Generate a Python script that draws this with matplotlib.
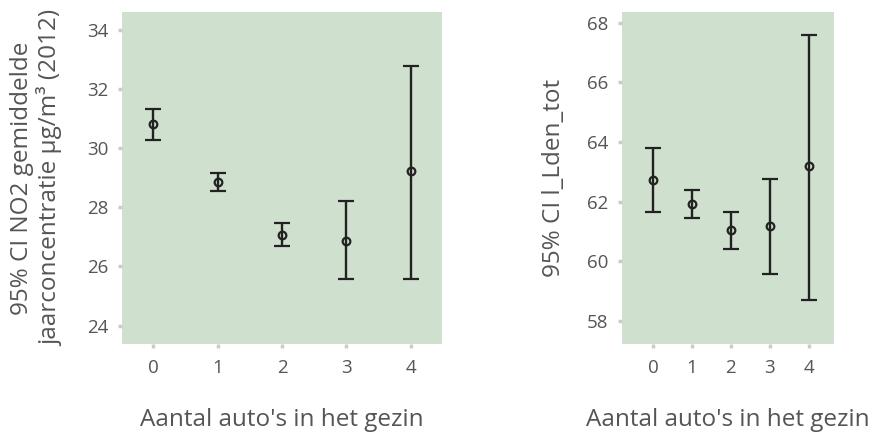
import matplotlib
matplotlib.use("Agg")
import matplotlib.pyplot as plt

plt.rcParams['font.family'] = ['Open Sans', 'DejaVu Sans']

cars = [0, 1, 2, 3, 4]
cars_labels = ["0", "1", "2", "3", "4"]

no2_mean = [30.80, 28.86, 27.08, 26.85, 29.23]
no2_low = [30.28, 28.56, 26.70, 25.59, 25.59]
no2_high = [31.33, 29.16, 27.47, 28.21, 32.78]

lden_mean = [62.72, 61.93, 61.05, 61.18, 63.20]
lden_low = [61.65, 61.45, 60.40, 59.57, 58.68]
lden_high = [63.80, 62.38, 61.65, 62.76, 67.60]

no2_ticks = [24, 26, 28, 30, 32, 34]
lden_ticks = [58, 60, 62, 64, 66, 68]

xlabel = "Aantal auto's in het gezin"
ylabel_no2 = "95% CI NO2 gemiddelde\njaarconcentratie µg/m³ (2012)"
ylabel_lden = "95% CI l_Lden_tot"

BG = "#cfe0ce"
DARK = "#222222"
GREY = "#555555"
TICKC = "#cccccc"

fig = plt.figure(figsize=(8.73, 4.34), dpi=100)
ax1 = fig.add_axes([122/873, 90/434, 320/873, 332/434])
ax2 = fig.add_axes([622/873, 90/434, 212/873, 332/434])


def draw(ax, mean, low, high, yticks, ylim, xlim, ylabel, lpad):
    ax.set_facecolor(BG)
    yerr = [[m - l for m, l in zip(mean, low)], [h - m for m, h in zip(mean, high)]]
    ax.errorbar(cars, mean, yerr=yerr, fmt='o', color=DARK, ecolor=DARK,
                elinewidth=1.7, capsize=5.5, capthick=2.6,
                markersize=5.5, markerfacecolor='none', markeredgecolor=DARK,
                markeredgewidth=1.6)
    for s in ax.spines.values():
        s.set_visible(False)
    ax.set_xticks(cars)
    ax.set_xticklabels(cars_labels)
    ax.set_yticks(yticks)
    ax.set_ylim(*ylim)
    ax.set_xlim(*xlim)
    ax.tick_params(axis='both', colors=TICKC, labelcolor=GREY, labelsize=13.5,
                   length=3, width=2.5)
    ax.tick_params(axis='x', pad=8)
    ax.tick_params(axis='y', pad=7)
    ax.set_xlabel(xlabel, fontsize=17.5, color=GREY, labelpad=22)
    ax.set_ylabel(ylabel, fontsize=17.5, color=GREY, labelpad=lpad, linespacing=1.15)


draw(ax1, no2_mean, no2_low, no2_high, no2_ticks, (23.38, 34.6), (-0.49, 4.49), ylabel_no2, 17)
draw(ax2, lden_mean, lden_low, lden_high, lden_ticks, (57.22, 68.36), (-0.8, 4.65), ylabel_lden, 15)

fig.savefig("out.png", dpi=100)
